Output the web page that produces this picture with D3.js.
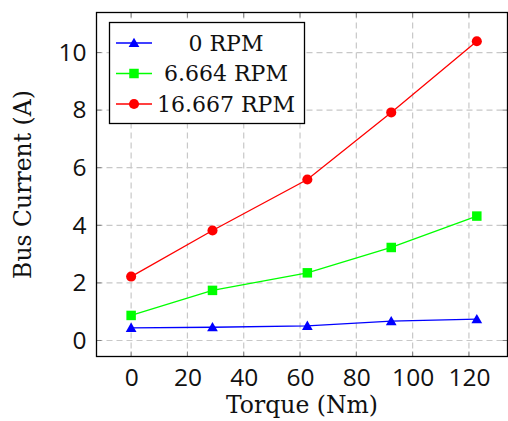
<!DOCTYPE html>
<html>
<head>
<meta charset="utf-8">
<script src="https://cdn.jsdelivr.net/npm/d3@7"></script>
<style>
  html, body { margin: 0; padding: 0; background: #fff; }
  svg { display: block; }
</style>
</head>
<body>
<svg id="chart" width="508" height="421"></svg>
<script>
// Bus current versus load torque at three motor speeds
const torque = [0, 28.9, 62.6, 92.4, 122.8];
const current0rpm = [0.44, 0.46, 0.51, 0.67, 0.74];
const current6rpm = [0.87, 1.74, 2.35, 3.23, 4.32];
const current16rpm = [2.22, 3.82, 5.59, 7.92, 10.39];
const seriesNames = ["0 RPM", "6.664 RPM", "16.667 RPM"];
const seriesColors = ["#0000ff", "#00ff00", "#ff0000"];
const seriesSymbols = ["triangle", "square", "circle"];
const xTicks = [0, 20, 40, 60, 80, 100, 120];
const yTicks = [0, 2, 4, 6, 8, 10];

const svg = d3.select("#chart");
const box = { left: 96.5, right: 507.5, top: 12.5, bottom: 356.5 };

const x = d3.scaleLinear().domain([-12.3, 133.7]).range([box.left, box.right]);
const y = d3.scaleLinear().domain([-0.556, 11.39]).range([box.bottom, box.top]);

const sansFont = "'Open Sans', 'Noto Sans', sans-serif";
const serifFont = "'DejaVu Serif', serif";

// dashed grid
const grid = svg.append("g");
grid.selectAll("line.gx").data(xTicks).join("line")
  .attr("x1", d => x(d)).attr("x2", d => x(d))
  .attr("y1", box.top).attr("y2", box.bottom)
  .attr("stroke", "#c8c8c8").attr("stroke-width", 1.2).attr("stroke-dasharray", "6,4");
grid.selectAll("line.gy").data(yTicks).join("line")
  .attr("x1", box.left).attr("x2", box.right)
  .attr("y1", d => y(d)).attr("y2", d => y(d))
  .attr("stroke", "#c8c8c8").attr("stroke-width", 1.2).attr("stroke-dasharray", "6,4");

// axes with labels outside and tick marks inside
const tickLen = 5;
const xAxis = d3.axisBottom(x).tickValues(xTicks).tickSize(0).tickPadding(11);
const yAxis = d3.axisLeft(y).tickValues(yTicks).tickSize(0).tickPadding(10);
const gx = svg.append("g").attr("transform", `translate(0,${box.bottom})`).call(xAxis);
const gy = svg.append("g").attr("transform", `translate(${box.left},0)`).call(yAxis);
[gx, gy].forEach(g => {
  g.select(".domain").remove();
  g.selectAll("text").attr("font-family", sansFont).attr("font-size", 24.5).attr("fill", "#111");
});
gx.selectAll("text").attr("dy", "0.75em");

const marks = svg.append("g").attr("stroke", "#808080").attr("stroke-width", 1);
xTicks.forEach(t => {
  marks.append("line").attr("x1", x(t)).attr("x2", x(t)).attr("y1", box.bottom).attr("y2", box.bottom - tickLen);
  marks.append("line").attr("x1", x(t)).attr("x2", x(t)).attr("y1", box.top).attr("y2", box.top + tickLen);
});
yTicks.forEach(t => {
  marks.append("line").attr("y1", y(t)).attr("y2", y(t)).attr("x1", box.left).attr("x2", box.left + tickLen);
  marks.append("line").attr("y1", y(t)).attr("y2", y(t)).attr("x1", box.right).attr("x2", box.right - tickLen);
});

// frame
svg.append("rect")
  .attr("x", box.left).attr("y", box.top)
  .attr("width", box.right - box.left).attr("height", box.bottom - box.top)
  .attr("fill", "none").attr("stroke", "#000").attr("stroke-width", 1.3);

// series
const symbolTypes = { triangle: d3.symbolTriangle, square: d3.symbolSquare, circle: d3.symbolCircle };
const symbolSizes = { triangle: 50, square: 90, circle: 80 };
const seriesData = [current0rpm, current6rpm, current16rpm];
const line = d3.line().x(d => x(d[0])).y(d => y(d[1]));

seriesData.forEach((vals, i) => {
  const pts = torque.map((t, j) => [t, vals[j]]);
  const g = svg.append("g");
  g.append("path").datum(pts).attr("d", line)
    .attr("fill", "none").attr("stroke", seriesColors[i]).attr("stroke-width", 1.3);
  const sym = d3.symbol().type(symbolTypes[seriesSymbols[i]]).size(symbolSizes[seriesSymbols[i]]);
  g.selectAll("path.m").data(pts).join("path")
    .attr("transform", d => `translate(${x(d[0])},${y(d[1]) + (seriesSymbols[i] === "triangle" ? 1 : 0)})`)
    .attr("d", sym).attr("fill", seriesColors[i]);
});

// legend
const legend = svg.append("g");
legend.append("rect").attr("x", 109.5).attr("y", 22.5).attr("width", 195).attr("height", 101)
  .attr("fill", "#fff").attr("stroke", "#000").attr("stroke-width", 1.3);
seriesNames.forEach((name, i) => {
  const cy = 43 + i * 30.5;
  legend.append("line").attr("x1", 116).attr("x2", 152).attr("y1", cy).attr("y2", cy)
    .attr("stroke", seriesColors[i]).attr("stroke-width", 1.3);
  const sym = d3.symbol().type(symbolTypes[seriesSymbols[i]]).size(symbolSizes[seriesSymbols[i]]);
  legend.append("path").attr("transform", `translate(134,${cy + (seriesSymbols[i] === "triangle" ? 1 : 0)})`)
    .attr("d", sym).attr("fill", seriesColors[i]);
  legend.append("text").attr("x", 226).attr("y", cy).attr("dy", "0.36em")
    .attr("text-anchor", "middle").attr("font-family", serifFont).attr("font-size", 22)
    .attr("fill", "#111").text(name);
});

// axis titles
svg.append("text").attr("x", (box.left + box.right) / 2).attr("y", 413)
  .attr("text-anchor", "middle").attr("font-family", serifFont).attr("font-size", 23.5)
  .attr("fill", "#111").text("Torque (Nm)");
svg.append("text").attr("transform", `translate(31,${(box.top + box.bottom) / 2}) rotate(-90)`)
  .attr("text-anchor", "middle").attr("font-family", serifFont).attr("font-size", 23.5)
  .attr("fill", "#111").text("Bus Current (A)");
</script>
</body>
</html>
